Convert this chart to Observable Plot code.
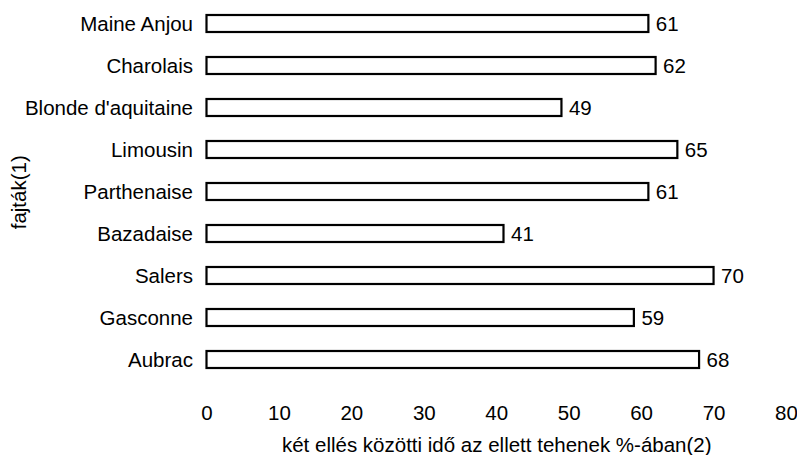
<!DOCTYPE html>
<html>
<head>
<meta charset="utf-8">
<script src="https://cdn.jsdelivr.net/npm/d3@7"></script>
<script src="https://cdn.jsdelivr.net/npm/@observablehq/plot@0.6"></script>
<style>
  html, body { margin: 0; padding: 0; background: #fff; }
  svg { font-family: "Liberation Sans", Arial, sans-serif; }
</style>
</head>
<body>
<div id="chart"></div>
<script>
const breeds = ["Maine Anjou", "Charolais", "Blonde d'aquitaine", "Limousin", "Parthenaise", "Bazadaise", "Salers", "Gasconne", "Aubrac"];
const values = [61, 62, 49, 65, 61, 41, 70, 59, 68];
const xTicks = [0, 10, 20, 30, 40, 50, 60, 70, 80];
const xLabel = "két ellés közötti idő az ellett tehenek %-ában(2)";
const yLabel = "fajták(1)";

const data = breeds.map((b, i) => ({breed: b, value: values[i]}));

const W = 797, H = 455;
const marginLeft = 206.5, marginRight = 11, marginTop = 13, marginBottom = 84.5;
const FS = 20.5;

const chart = Plot.plot({
  width: W,
  height: H,
  marginLeft, marginRight, marginTop, marginBottom,
  style: {fontFamily: "'Liberation Sans', Arial, sans-serif", fontSize: FS + "px", color: "#000", background: "#fff"},
  x: {domain: [0, 80], ticks: xTicks, label: null},
  y: {domain: breeds, paddingInner: 0.6, paddingOuter: 0, label: null},
  marks: [
    Plot.axisX({ticks: xTicks, tickSize: 0, tickPadding: 34, label: null, fontSize: FS}),
    Plot.axisY({tickSize: 0, tickPadding: 14, label: null, fontSize: FS}),
    Plot.barX(data, {x: "value", y: "breed", fill: "#fff", stroke: "#000", strokeWidth: 2.2}),
    Plot.text(data, {x: "value", y: "breed", text: d => String(d.value), textAnchor: "start", dx: 7, fontSize: FS, fill: "#000"}),
    Plot.text([xLabel], {frameAnchor: "bottom", textAnchor: "middle", lineAnchor: "middle", dy: 74.5, fontSize: FS, fill: "#000"}),
    Plot.text([yLabel], {frameAnchor: "left", textAnchor: "middle", lineAnchor: "middle", dx: 19 - marginLeft, rotate: -90, fontSize: FS, fill: "#000"})
  ]
});
document.getElementById("chart").appendChild(chart);
</script>
</body>
</html>
